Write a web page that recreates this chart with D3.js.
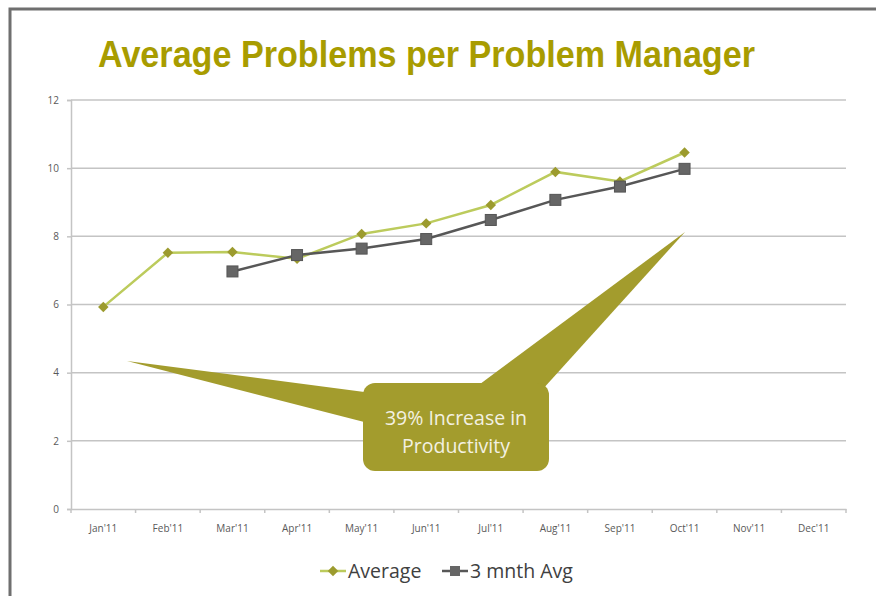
<!DOCTYPE html>
<html>
<head>
<meta charset="utf-8">
<script src="https://cdn.jsdelivr.net/npm/d3@7"></script>
<style>
  body { margin: 0; background: #fff; }
  svg { display: block; }
</style>
</head>
<body>
<div id="chart"></div>
<script>
// chart values
const months = ["Jan'11", "Feb'11", "Mar'11", "Apr'11", "May'11", "Jun'11",
  "Jul'11", "Aug'11", "Sep'11", "Oct'11", "Nov'11", "Dec'11"];
const average = [5.93, 7.52, 7.54, 7.34, 8.07, 8.38, 8.92, 9.89, 9.61, 10.46, null, null];
const threeMonthAvg = [null, null, 6.97, 7.45, 7.64, 7.92, 8.48, 9.07, 9.46, 9.98, null, null];
const yTicks = [0, 2, 4, 6, 8, 10, 12];
const titleText = 'Average Problems per Problem Manager';
const calloutLines = ['39% Increase in', 'Productivity'];

const width = 876, height = 596;
const plot = {left: 71, right: 846, top: 100, bottom: 509};

const svg = d3.select('#chart').append('svg')
  .attr('width', width)
  .attr('height', height);

// slide frame
svg.append('path')
  .attr('d', 'M10,' + height + ' V9 H' + width)
  .attr('fill', 'none')
  .attr('stroke', '#6f6f6f')
  .attr('stroke-width', 3);

svg.append('text')
  .attr('x', 98)
  .attr('y', 67)
  .attr('textLength', 657)
  .attr('lengthAdjust', 'spacingAndGlyphs')
  .style('font-family', '"Liberation Sans", Arial, sans-serif')
  .style('font-weight', 'bold')
  .style('font-size', '37px')
  .attr('fill', '#a89c00')
  .text(titleText);

const x = d3.scaleBand().domain(months).range([plot.left, plot.right]);
const y = d3.scaleLinear().domain([0, 12]).range([plot.bottom, plot.top]);

const grid = svg.append('g');
grid.selectAll('line')
  .data(yTicks.filter(d => d > 0))
  .enter().append('line')
  .attr('x1', plot.left)
  .attr('x2', plot.right)
  .attr('y1', d => y(d))
  .attr('y2', d => y(d))
  .attr('stroke', '#c4c4c4')
  .attr('stroke-width', 1.5);

const tickFont = '"Open Sans", "Noto Sans", sans-serif';

const yAxis = svg.append('g')
  .attr('transform', 'translate(' + plot.left + ',0)')
  .call(d3.axisLeft(y).tickValues(yTicks).tickSize(4).tickPadding(8));

const xAxis = svg.append('g')
  .attr('transform', 'translate(0,' + plot.bottom + ')')
  .call(d3.axisBottom(x).tickSize(0).tickPadding(16));

// ticks on the band edges
xAxis.selectAll('.edge')
  .data(months.map(m => x(m)).concat([plot.right]))
  .enter().append('line')
  .attr('class', 'edge')
  .attr('x1', d => d).attr('x2', d => d)
  .attr('y1', 0).attr('y2', 4)
  .attr('stroke', '#c4c4c4')
  .attr('stroke-width', 1.5);

[yAxis, xAxis].forEach(a => {
  a.select('.domain').attr('stroke', '#c4c4c4').attr('stroke-width', 1.5);
  a.selectAll('.tick line').attr('stroke', '#c4c4c4').attr('stroke-width', 1.5);
  a.selectAll('.tick text')
    .attr('fill', '#595959')
    .style('font-family', tickFont)
    .style('font-size', '10px');
});

const cx = d => x(d.m) + x.bandwidth() / 2;

function series(values) {
  return months.map((m, i) => ({m: m, v: values[i]})).filter(d => d.v !== null);
}

const avgData = series(average);
const mavgData = series(threeMonthAvg);

const line = d3.line().x(cx).y(d => y(d.v));

svg.append('path')
  .datum(avgData)
  .attr('d', line)
  .attr('fill', 'none')
  .attr('stroke', '#bccb5c')
  .attr('stroke-width', 2.5);

svg.append('path')
  .datum(mavgData)
  .attr('d', line)
  .attr('fill', 'none')
  .attr('stroke', '#575757')
  .attr('stroke-width', 2.5);

const diamond = d3.symbol().type(d3.symbolDiamond2).size(70);

svg.append('g').selectAll('path')
  .data(avgData)
  .enter().append('path')
  .attr('d', diamond)
  .attr('transform', d => 'translate(' + cx(d) + ',' + y(d.v) + ')')
  .attr('fill', '#9c9b2e');

svg.append('g').selectAll('rect')
  .data(mavgData)
  .enter().append('rect')
  .attr('x', d => cx(d) - 5.5)
  .attr('y', d => y(d.v) - 5.5)
  .attr('width', 11)
  .attr('height', 11)
  .attr('fill', '#666666')
  .attr('stroke', '#555555')
  .attr('stroke-width', 1);

// callout
const callout = svg.append('g');
const olive = '#a39c2d';
callout.append('path')
  .attr('d', 'M127,361 L372,393 L372,424 Z')
  .attr('fill', olive);
callout.append('path')
  .attr('d', 'M685,232 L542,390 L472,390 Z')
  .attr('fill', olive);
callout.append('rect')
  .attr('x', 363)
  .attr('y', 383)
  .attr('width', 186)
  .attr('height', 88)
  .attr('rx', 12)
  .attr('fill', olive);
callout.selectAll('text')
  .data(calloutLines)
  .enter().append('text')
  .attr('x', 456)
  .attr('y', (d, i) => 425 + i * 28)
  .attr('text-anchor', 'middle')
  .attr('fill', '#f3f1e2')
  .style('font-family', tickFont)
  .style('font-size', '19.5px')
  .text(d => d);

// legend
const legend = svg.append('g').attr('transform', 'translate(0,571)');
const legendItems = [
  {label: 'Average', x: 320, line: '#bccb5c', mark: '#9c9b2e', shape: 'diamond'},
  {label: '3 mnth Avg', x: 442, line: '#575757', mark: '#666666', shape: 'square'}
];
legendItems.forEach(item => {
  legend.append('line')
    .attr('x1', item.x).attr('x2', item.x + 26)
    .attr('y1', 0).attr('y2', 0)
    .attr('stroke', item.line)
    .attr('stroke-width', 2.5);
  if (item.shape === 'diamond') {
    legend.append('path')
      .attr('d', diamond)
      .attr('transform', 'translate(' + (item.x + 13) + ',0)')
      .attr('fill', item.mark);
  } else {
    legend.append('rect')
      .attr('x', item.x + 8).attr('y', -5)
      .attr('width', 10).attr('height', 10)
      .attr('fill', item.mark);
  }
  legend.append('text')
    .attr('x', item.x + 28)
    .attr('y', 7)
    .attr('fill', '#404040')
    .style('font-family', tickFont)
    .style('font-size', '19.5px')
    .text(item.label);
});
</script>
</body>
</html>
